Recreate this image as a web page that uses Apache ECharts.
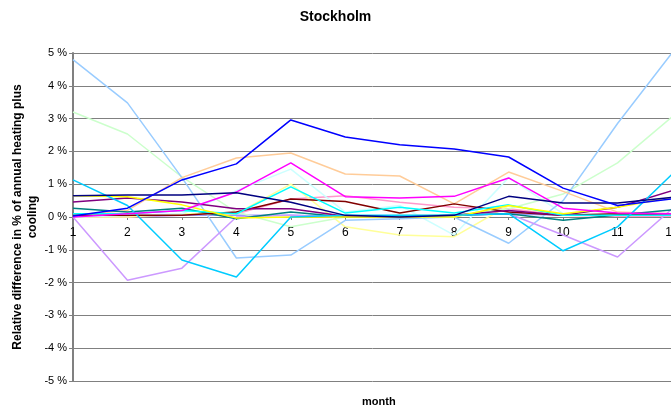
<!DOCTYPE html>
<html>
<head>
<meta charset="utf-8">
<script src="https://cdn.jsdelivr.net/npm/echarts@6/dist/echarts.min.js"></script>
<style>
  html, body { margin: 0; padding: 0; background: #fff; }
  #chart { width: 671px; height: 409px; }
</style>
</head>
<body>
<div id="chart"></div>
<script>
// months
const months = ['1', '2', '3', '4', '5', '6', '7', '8', '9', '10', '11', '12']

// relative difference (%) per series
const navy      = [0.65, 0.67, 0.67, 0.74, 0.45, 0.05, 0.0, 0.05, 0.63, 0.43, 0.43, 0.6]
const magenta   = [0.0, 0.1, 0.2, 0.76, 1.65, 0.62, 0.58, 0.63, 1.19, 0.27, 0.12, 0.1]
const yellow    = [0.65, 0.62, 0.37, -0.03, 0.0, 0.0, 0.0, 0.0, 0.35, 0.1, 0.3, 0.6]
const aqua      = [0.1, 0.1, 0.2, 0.1, 0.92, 0.12, 0.3, 0.12, 0.37, 0.05, 0.05, 0.05]
const purple    = [0.46, 0.58, 0.46, 0.25, 0.25, 0.02, 0.0, 0.05, 0.2, 0.05, 0.3, 0.8]
const darkRed   = [0.05, 0.05, 0.05, 0.15, 0.55, 0.47, 0.12, 0.4, 0.15, 0.05, 0.1, 0.05]
const teal      = [0.27, 0.15, 0.27, -0.05, 0.15, 0.0, 0.02, 0.05, 0.1, -0.1, 0.06, 0.22]
const blue      = [0.03, 0.27, 1.13, 1.62, 2.96, 2.44, 2.2, 2.07, 1.83, 0.88, 0.35, 0.55]
const skyBlue   = [1.13, 0.35, -1.31, -1.83, 0.0, 0.05, 0.05, 0.05, 0.1, -1.03, -0.3, 1.3]
const turquoise = [0.0, 0.05, 0.1, 0.8, 1.46, 0.15, 0.35, -0.55, 1.2, 0.1, 0.05, 0.1]
const lightGreen = [3.2, 2.53, 1.22, 0.15, -0.3, 0.0, 0.05, 0.05, 0.25, 0.7, 1.65, 3.05]
const lightYellow = [0.0, 0.0, 0.1, 0.1, 1.0, -0.3, -0.55, -0.6, 0.35, 0.05, 0.05, 0.05]
const paleBlue  = [4.8, 3.48, 1.2, -1.25, -1.16, -0.1, -0.05, 0.0, -0.8, 0.5, 2.85, 5.0]
const rose      = [0.0, 0.0, 0.05, 0.1, 0.55, 0.65, 0.45, 0.3, 0.25, 0.05, 0.02, 0.02]
const lavender  = [0.0, -1.93, -1.56, 0.0, 0.05, 0.0, 0.0, 0.05, 0.1, -0.55, -1.22, 0.25]
const tan       = [0.05, 0.2, 1.2, 1.8, 1.95, 1.31, 1.25, 0.4, 1.37, 0.78, 0.15, 0.1]
const periwinkle = [0.0, 0.02, 0.05, 0.05, 0.05, 0.0, 0.0, 0.05, 0.1, 0.05, 0.05, 0.05]

const lines = [
  { data: rose, color: '#FF99CC' },
  { data: periwinkle, color: '#9999FF' },
  { data: lightYellow, color: '#FFFF99' },
  { data: turquoise, color: '#CCFFFF' },
  { data: lightGreen, color: '#CCFFCC' },
  { data: paleBlue, color: '#99CCFF' },
  { data: lavender, color: '#CC99FF' },
  { data: tan, color: '#FFCC99' },
  { data: teal, color: '#008080' },
  { data: darkRed, color: '#800000' },
  { data: purple, color: '#800080' },
  { data: aqua, color: '#00FFFF' },
  { data: yellow, color: '#FFFF00' },
  { data: skyBlue, color: '#00CCFF' },
  { data: magenta, color: '#FF00FF' },
  { data: navy, color: '#000080' },
  { data: blue, color: '#0000FF' }
]

const chart = echarts.init(document.getElementById('chart'))

const font = 'Liberation Sans, Arial, sans-serif'

chart.setOption({
  animation: false,
  title: {
    text: 'Stockholm',
    left: 'center',
    top: 5,
    textStyle: { fontFamily: font, fontSize: 14, fontWeight: 'bold', color: '#000' }
  },
  // plot area is cut off at the right edge, like the original
  grid: { left: 73, right: -1, top: 53, bottom: 28, outerBoundsMode: 'none' },
  xAxis: {
    type: 'category',
    data: months,
    boundaryGap: false,
    // sit the axis on the 0 % line (grid height 328 px, zero is 164 px up)
    offset: -164,
    axisLine: { onZero: false, lineStyle: { color: '#808080', width: 1 } },
    axisTick: { show: true, length: 3, lineStyle: { color: '#808080' } },
    axisLabel: { color: '#000', fontFamily: font, fontSize: 12, margin: 10 },
    splitLine: { show: false }
  },
  yAxis: {
    type: 'value',
    min: -5,
    max: 5,
    interval: 1,
    name: 'Relative difference in % of annual heating plus\ncooling',
    nameLocation: 'middle',
    nameGap: 33,
    nameMoveOverlap: false,
    nameTextStyle: { fontFamily: font, fontSize: 12, fontWeight: 'bold', color: '#000', lineHeight: 15 },
    axisLine: { show: true, lineStyle: { color: '#808080', width: 2 } },
    axisTick: { show: true, length: 4, lineStyle: { color: '#808080' } },
    axisLabel: { formatter: '{value} %', color: '#000', fontFamily: font, fontSize: 11, margin: 6 },
    splitLine: { show: true, lineStyle: { color: '#808080', width: 1 } }
  },
  graphic: [{
    type: 'text',
    left: 362,
    top: 396,
    style: { text: 'month', fontFamily: font, fontSize: 11, fontWeight: 'bold', fill: '#000' }
  }],
  series: lines.map(l => ({
    type: 'line',
    data: l.data,
    symbol: 'none',
    lineStyle: { color: l.color, width: 1.5 },
    itemStyle: { color: l.color }
  }))
})
</script>
</body>
</html>
